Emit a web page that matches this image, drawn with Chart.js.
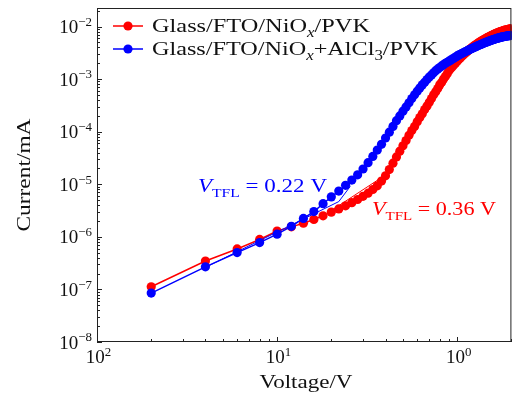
<!DOCTYPE html>
<html><head><meta charset="utf-8">
<script src="https://cdn.jsdelivr.net/npm/chart.js@4/dist/chart.umd.min.js"></script>
<style>html,body{margin:0;padding:0;background:#fff;}#wrap{width:516px;height:396px;}</style>
</head><body><div id="wrap"><canvas id="c" width="516" height="396"></canvas></div>
<script>
// ---- data ----
const voltage = [0.02,0.04,0.06,0.08,0.10,0.12,0.14,0.16,0.18,0.20,0.22,0.24,0.26,0.28,0.30,0.32,0.34,0.36,0.38,0.40,
0.42,0.44,0.46,0.48,0.50,0.52,0.54,0.56,0.58,0.60,0.62,0.64,0.66,0.68,0.70,0.72,0.74,0.76,0.78,0.80,
0.82,0.84,0.86,0.88,0.90,0.92,0.94,0.96,0.98,1.00,1.02,1.04,1.06,1.08,1.10,1.12,1.14,1.16,1.18,1.20,
1.22,1.24,1.26,1.28,1.30,1.32,1.34,1.36,1.38,1.40,1.42,1.44,1.46,1.48,1.50,1.52,1.54,1.56,1.58,1.60,
1.62,1.64,1.66,1.68,1.70,1.72,1.74,1.76,1.78,1.80,1.82,1.84,1.86,1.88,1.90,1.92,1.94,1.96,1.98,2.00];
// log10 of current (mA)
const redLogCurrent = [-6.95,-6.46,-6.23,-6.05,-5.89,-5.81,-5.74,-5.67,-5.60,-5.53,-5.47,-5.41,-5.35,-5.29,-5.23,-5.17,-5.10,-5.03,-4.94,-4.84,
-4.72,-4.60,-4.48,-4.37,-4.27,-4.17,-4.07,-3.98,-3.90,-3.81,-3.73,-3.66,-3.58,-3.51,-3.44,-3.37,-3.30,-3.24,-3.18,-3.11,
-3.06,-3.00,-2.95,-2.90,-2.84,-2.80,-2.763,-2.727,-2.692,-2.659,-2.628,-2.598,-2.570,-2.543,-2.517,-2.493,-2.470,-2.448,-2.427,-2.407,
-2.388,-2.370,-2.353,-2.337,-2.321,-2.306,-2.292,-2.278,-2.265,-2.252,-2.240,-2.228,-2.217,-2.206,-2.195,-2.185,-2.175,-2.166,-2.157,-2.148,
-2.140,-2.132,-2.124,-2.117,-2.110,-2.103,-2.097,-2.091,-2.085,-2.080,-2.075,-2.070,-2.066,-2.062,-2.058,-2.054,-2.051,-2.048,-2.045,-2.042];
const blueLogCurrent = [-7.07,-6.57,-6.30,-6.11,-5.95,-5.80,-5.65,-5.52,-5.37,-5.24,-5.13,-5.02,-4.92,-4.82,-4.71,-4.59,-4.47,-4.35,-4.24,-4.12,
-4.01,-3.90,-3.79,-3.70,-3.61,-3.53,-3.45,-3.37,-3.30,-3.23,-3.17,-3.11,-3.06,-3.01,-2.96,-2.92,-2.88,-2.84,-2.81,-2.78,
-2.75,-2.725,-2.70,-2.68,-2.66,-2.64,-2.62,-2.60,-2.58,-2.560,-2.544,-2.529,-2.514,-2.500,-2.486,-2.472,-2.459,-2.446,-2.434,-2.422,
-2.410,-2.399,-2.388,-2.377,-2.367,-2.357,-2.347,-2.338,-2.329,-2.320,-2.311,-2.303,-2.295,-2.287,-2.279,-2.272,-2.265,-2.258,-2.251,-2.245,
-2.239,-2.233,-2.227,-2.222,-2.217,-2.212,-2.207,-2.203,-2.199,-2.195,-2.191,-2.188,-2.185,-2.182,-2.179,-2.177,-2.175,-2.173,-2.171,-2.169];
// thin fit lines
const redFitVoltage = [0.20, 0.385, 0.33];
const redFitLog = [-5.50, -4.86, -5.10];
const blueFitVoltage = [0.04, 0.22, 0.255];
const blueFitLog = [-6.58, -5.33, -5.04];
// axis ticks
const xTickValues = [0.01, 0.1, 1];
const xTickExponents = ['2', '1', '0'];
const yTickValues = [1e-8, 1e-7, 1e-6, 1e-5, 1e-4, 1e-3, 1e-2];
const yTickExponents = ['\u22128', '\u22127', '\u22126', '\u22125', '\u22124', '\u22123', '\u22122'];
const seriesNames = [
  [{t:'Glass/FTO/NiO'},{t:'x',sub:true,it:true},{t:'/PVK'}],
  [{t:'Glass/FTO/NiO'},{t:'x',sub:true,it:true},{t:'+AlCl'},{t:'3',sub:true},{t:'/PVK'}]
];
const RED = '#ff0000', BLUE = '#0000ff';
const FAM = '"Liberation Serif", "DejaVu Serif", serif';

const pts = (vs, ls) => vs.map((v, i) => ({x: v, y: Math.pow(10, ls[i])}));

function richWidth(ctx, segs, size) {
  let w = 0;
  for (const s of segs) {
    const sz = s.sub || s.sup ? size * (s.small || 0.7) : size;
    ctx.font = (s.it ? 'italic ' : '') + sz + 'px ' + FAM;
    w += ctx.measureText(s.t).width;
  }
  return w;
}
function drawRich(ctx, segs, x, y, size, color, targetW, align) {
  ctx.save();
  const w = richWidth(ctx, segs, size);
  const sx = targetW ? targetW / w : 1;
  let x0 = x;
  if (align === 'center') x0 = x - w * sx / 2;
  else if (align === 'right') x0 = x - w * sx;
  ctx.translate(x0, y);
  ctx.scale(sx, 1);
  ctx.fillStyle = color;
  ctx.textBaseline = 'alphabetic';
  ctx.textAlign = 'left';
  let cx = 0;
  for (const s of segs) {
    const sz = s.sub || s.sup ? size * (s.small || 0.7) : size;
    ctx.font = (s.it ? 'italic ' : '') + sz + 'px ' + FAM;
    const dy = s.sub ? size * 0.25 : (s.sup ? -size * 0.38 : 0);
    ctx.fillText(s.t, cx, dy + (s.dy || 0));
    cx += ctx.measureText(s.t).width;
  }
  ctx.restore();
}

const decor = {
  id: 'decor',
  afterDraw(chart) {
    const ctx = chart.ctx, a = chart.chartArea;
    const xs = chart.scales.x, ys = chart.scales.y;
    ctx.save();
    ctx.strokeStyle = '#222';
    ctx.lineWidth = 1;
    ctx.strokeRect(a.left + 0.5, a.top + 0.5, a.right - a.left - 1, a.bottom - a.top - 1);
    ctx.beginPath();
    for (let e = -2; e <= 0; e++) {
      for (let k = 1; k <= 9; k++) {
        const v = k * Math.pow(10, e);
        if (v < xs.min || v > xs.max) continue;
        const px = Math.round(xs.getPixelForValue(v)) + 0.5;
        const len = k === 1 ? 5 : 3;
        ctx.moveTo(px, a.bottom); ctx.lineTo(px, a.bottom - len);
      }
    }
    for (let e = -8; e <= -2; e++) {
      for (let k = 1; k <= 9; k++) {
        const v = k * Math.pow(10, e);
        if (v < ys.min || v > ys.max) continue;
        const py = Math.round(ys.getPixelForValue(v)) + 0.5;
        const len = k === 1 ? 5 : 3;
        ctx.moveTo(a.left, py); ctx.lineTo(a.left + len, py);
      }
    }
    ctx.stroke();
    xTickValues.forEach((v, i) => {
      const px = xs.getPixelForValue(v);
      drawRich(ctx, [{t:'10'},{t:xTickExponents[i],sup:true,small:0.68}], px + 1.5, 363, 19, '#111', null, 'center');
    });
    yTickValues.forEach((v, i) => {
      const py = ys.getPixelForValue(v);
      drawRich(ctx, [{t:'10'},{t:yTickExponents[i],sup:true,small:0.68}], 92, py + 6.5, 19, '#111', null, 'right');
    });
    drawRich(ctx, [{t:'Voltage/V'}], 306, 388, 19, '#111', 93, 'center');
    ctx.save();
    ctx.translate(30, 175);
    ctx.rotate(-Math.PI / 2);
    drawRich(ctx, [{t:'Current/mA'}], 0, 0, 19, '#111', 113, 'center');
    ctx.restore();
    const rows = [{y: 26, c: RED}, {y: 49, c: BLUE}];
    rows.forEach((r, i) => {
      ctx.strokeStyle = r.c; ctx.lineWidth = 1.5;
      ctx.beginPath(); ctx.moveTo(113, r.y); ctx.lineTo(143, r.y); ctx.stroke();
      ctx.fillStyle = r.c;
      ctx.beginPath(); ctx.arc(128, r.y, 4.6, 0, Math.PI * 2); ctx.fill();
      drawRich(ctx, seriesNames[i], 152, r.y + 6, 19.5, '#111', i === 0 ? 218 : 286, 'left');
    });
    drawRich(ctx, [{t:'V',it:true},{t:'TFL',sub:true,small:0.68},{t:' = 0.22 V'}], 198, 192, 19, BLUE, 129, 'left');
    drawRich(ctx, [{t:'V',it:true},{t:'TFL',sub:true,small:0.68},{t:' = 0.36 V'}], 372, 215, 19, RED, 124, 'left');
    ctx.restore();
  }
};

new Chart(document.getElementById('c'), {
  type: 'scatter',
  data: {
    datasets: [
      {data: pts(blueFitVoltage, blueFitLog), showLine: true, borderColor: BLUE, borderWidth: 1, pointRadius: 0, tension: 0},
      {data: pts(redFitVoltage, redFitLog), showLine: true, borderColor: RED, borderWidth: 1, pointRadius: 0, tension: 0},
      {data: pts(voltage, blueLogCurrent), showLine: true, borderColor: BLUE, backgroundColor: BLUE, borderWidth: 1.5, pointRadius: 4.6, pointBorderWidth: 0, pointBackgroundColor: BLUE},
      {data: pts(voltage, redLogCurrent), showLine: true, borderColor: RED, backgroundColor: RED, borderWidth: 1.5, pointRadius: 4.6, pointBorderWidth: 0, pointBackgroundColor: RED}
    ]
  },
  options: {
    responsive: false, animation: false, devicePixelRatio: 1,
    layout: {padding: {top: 8, right: 3, left: 0, bottom: 0}},
    plugins: {legend: {display: false}, tooltip: {enabled: false}},
    scales: {
      x: {type: 'logarithmic', min: 0.01, max: 2, grid: {display: false, drawTicks: false}, border: {display: false}, ticks: {display: false}, afterFit(s) { s.height = 54; }},
      y: {type: 'logarithmic', min: 1e-8, max: Math.pow(10, -1.648), grid: {display: false, drawTicks: false}, border: {display: false}, ticks: {display: false}, afterFit(s) { s.width = 97; }}
    }
  },
  plugins: [decor]
});
</script></body></html>
